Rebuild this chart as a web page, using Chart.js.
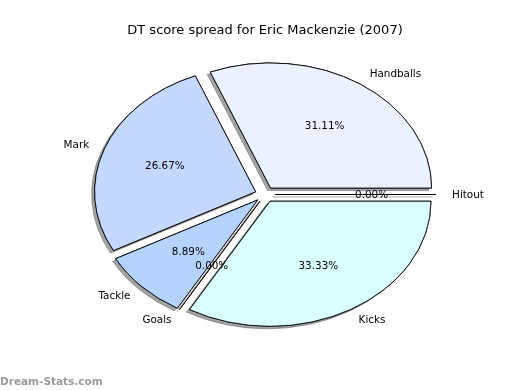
<!DOCTYPE html>
<html>
<head>
<meta charset="utf-8">
<script src="https://cdn.jsdelivr.net/npm/chart.js@4"></script>
<style>
  body { margin: 0; background: #fff; }
  #wrap { position: relative; width: 520px; height: 390px; }
  #mark { position: absolute; left: 0; top: 375px; font: bold 10.5px/12px "DejaVu Sans"; color: #9a9a9a; }
</style>
</head>
<body>
<div id="wrap">
  <canvas id="chart" width="520" height="390"></canvas>
  <div id="mark">Dream-Stats.com</div>
</div>
<script>
// slices listed clockwise from 3 o'clock (matplotlib drew them the other way round)
const labels = ["Hitout", "Kicks", "Goals", "Tackle", "Mark", "Handballs"];
const shares = [0, 33.33, 0, 8.89, 26.67, 31.11];
const colors = ["#ffffff", "#daffff", "#ffffff", "#b4d4ff", "#c5d8ff", "#ebf2ff"];

const squash = 0.777;  // the pie fills a wide axes box, so it comes out as an ellipse
const explode = 10;    // px, along each wedge's middle
const shadowDx = -3, shadowDy = 2.5;
const textDrop = 0.3;

const piePlugin = {
  id: 'mplPie',
  beforeDatasetsDraw(chart) {
    const ctx = chart.ctx;
    const arcs = chart.getDatasetMeta(0).data;

    const drawArc = (arc) => {
      const mid = (arc.startAngle + arc.endAngle) / 2;
      ctx.save();
      ctx.translate(arc.x, arc.y);
      ctx.scale(1, squash);
      ctx.translate(-arc.x, -arc.y);
      ctx.translate(Math.cos(mid) * explode, Math.sin(mid) * explode);
      if (arc.circumference > 0) {
        arc.draw(ctx);
      } else {
        // empty wedge: matplotlib still strokes its edge
        ctx.beginPath();
        ctx.moveTo(arc.x, arc.y);
        ctx.lineTo(arc.x + Math.cos(arc.startAngle) * arc.outerRadius,
                   arc.y + Math.sin(arc.startAngle) * arc.outerRadius);
        ctx.lineWidth = 1;
        ctx.strokeStyle = '#000';
        ctx.stroke();
      }
      ctx.restore();
    };

    // shadows first, then wedges on top
    ctx.save();
    ctx.shadowColor = 'rgba(72,74,78,0.5)';
    ctx.shadowOffsetX = shadowDx;
    ctx.shadowOffsetY = shadowDy;
    ctx.shadowBlur = 0;
    arcs.forEach(drawArc);
    ctx.restore();
    arcs.forEach(drawArc);
    return false;
  },
  afterDraw(chart) {
    const ctx = chart.ctx;
    const arcs = chart.getDatasetMeta(0).data;
    const total = shares.reduce((a, b) => a + b, 0);
    ctx.save();
    ctx.font = '10.4px "DejaVu Sans"';
    ctx.fillStyle = '#000';
    ctx.textBaseline = 'middle';
    arcs.forEach((arc, i) => {
      const mid = (arc.startAngle + arc.endAngle) / 2;
      const cx = arc.x + Math.cos(mid) * explode;
      const cy = arc.y + Math.sin(mid) * explode * squash + textDrop;
      const at = (f) => [cx + Math.cos(mid) * arc.outerRadius * f,
                         cy + Math.sin(mid) * arc.outerRadius * f * squash];
      let [x, y] = at(1.1);
      ctx.textAlign = Math.cos(mid) > 0 ? 'left' : 'right';
      ctx.fillText(labels[i], x, y);
      [x, y] = at(0.6);
      ctx.textAlign = 'center';
      ctx.fillText((shares[i] / total * 100).toFixed(2) + '%', x, y);
    });
    ctx.restore();
  }
};

new Chart('chart', {
  type: 'pie',
  data: {
    labels: labels,
    datasets: [{
      data: shares,
      backgroundColor: colors,
      borderColor: '#000',
      borderWidth: 1,
      borderJoinStyle: 'miter',
      radius: 161
    }]
  },
  options: {
    responsive: false,
    animation: false,
    devicePixelRatio: 1,
    rotation: 90,
    layout: { padding: { left: 10, bottom: 39.1 } },
    plugins: {
      legend: { display: false },
      tooltip: { enabled: false },
      title: {
        display: true,
        text: 'DT score spread for Eric Mackenzie (2007)',
        color: '#000',
        font: { family: 'DejaVu Sans', size: 13, weight: 'normal' },
        padding: { top: 22.5, bottom: 0 }
      }
    }
  },
  plugins: [piePlugin]
});
</script>
</body>
</html>
